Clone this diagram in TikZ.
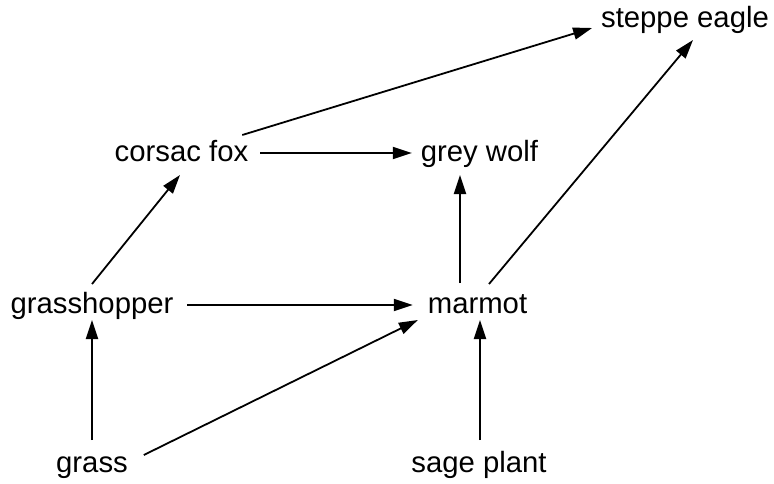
\documentclass[tikz,border=0pt]{standalone}
\usepackage{fontspec}
\setmainfont{Liberation Sans}
\usetikzlibrary{arrows.meta}
\tikzset{
  organism/.style={anchor=base, inner sep=0pt, outer sep=0pt, font=\fontsize{29.3}{34}\selectfont},
  feeds/.style={-{Triangle[length=19pt,width=12pt]}, line width=1.8pt, black}
}
\begin{document}
\begin{tikzpicture}[x=1pt, y=-1pt]
    \useasboundingbox (0,0) rectangle (774,484);
    \node[organism] (eagle) at (685,28) {steppe eagle};
    \node[organism] (fox) at (181.5,161) {corsac fox};
    \node[organism] (wolf) at (479.5,161) {grey wolf};
    \node[organism] (hopper) at (92,313) {grasshopper};
    \node[organism] (marmot) at (477.5,313) {marmot};
    \node[organism] (grass) at (92,472) {grass};
    \node[organism] (sage) at (479,472) {sage plant};
    \draw[feeds] ([yshift=32pt]grass.base) -- ([yshift=-7pt]hopper.base);
    \draw[feeds] ([xshift=16pt,yshift=17pt]grass.base east) -- ([xshift=-10pt,yshift=-7pt]marmot.base west);
    \draw[feeds] ([xshift=1pt,yshift=32pt]sage.base) -- ([xshift=2.5pt,yshift=-7pt]marmot.base);
    \draw[feeds] ([xshift=14pt,yshift=8pt]hopper.base east) -- ([xshift=-15pt,yshift=8pt]marmot.base west);
    \draw[feeds] ([yshift=29pt]hopper.base) -- ([xshift=-1.5pt,yshift=-14pt]fox.base);
    \draw[feeds] ([xshift=12pt,yshift=8pt]fox.base east) -- ([xshift=-9pt,yshift=8pt]wolf.base west);
    \draw[feeds] ([xshift=-17.5pt,yshift=30pt]marmot.base) -- ([xshift=-19.5pt,yshift=-14pt]wolf.base);
    \draw[feeds] ([xshift=11.5pt,yshift=29pt]marmot.base) -- ([xshift=8pt,yshift=-12pt]eagle.base);
    \draw[feeds] ([xshift=-6pt,yshift=26pt]fox.base east) -- ([xshift=-9pt]eagle.base west);
\end{tikzpicture}
\end{document}
